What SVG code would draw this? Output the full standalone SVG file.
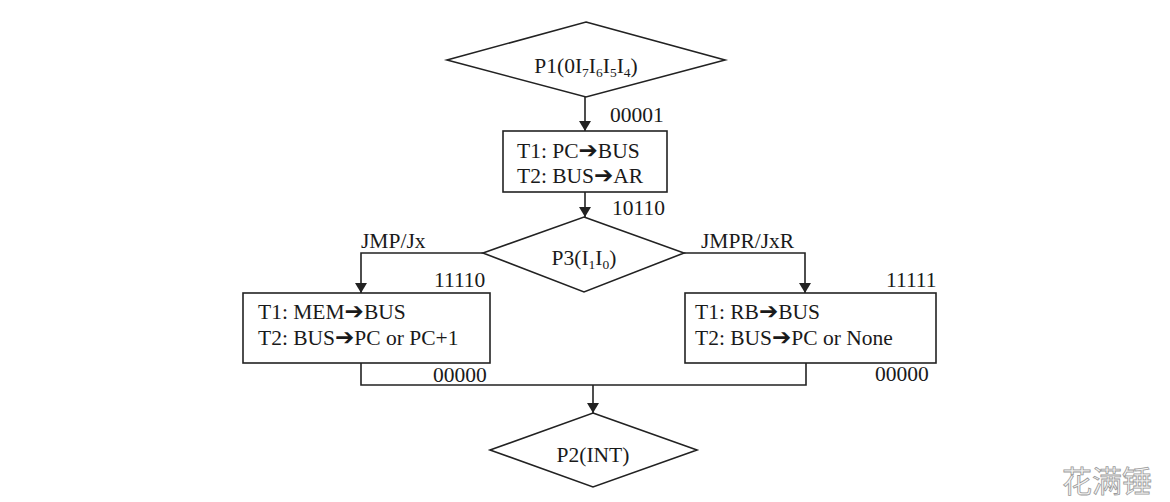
<svg xmlns="http://www.w3.org/2000/svg" width="1170" height="502" viewBox="0 0 1170 502">
<style>
  .shape { fill: #ffffff; stroke: #222222; stroke-width: 1.6; }
  .line { fill: none; stroke: #222222; stroke-width: 1.6; }
  .t { font-family: "Liberation Serif", "Times New Roman", serif; font-size: 21.5px; fill: #1a1a1a; }
  .c { text-anchor: middle; }
  .sub { font-size: 13.5px; }
  .ar { font-family: "DejaVu Sans", sans-serif; font-size: 23px; font-weight: bold; }
  .wm { font-family: "Noto Sans CJK SC", sans-serif; font-size: 30px; fill: #f4f4f4; stroke: #9a9a9a; stroke-width: 0.8; }
</style>
<defs>
  <marker id="arr" markerWidth="10" markerHeight="12" refX="10" refY="6" orient="auto" markerUnits="userSpaceOnUse">
    <path d="M0,0 L10,6 L0,12 Z" fill="#222222"/>
  </marker>
</defs>
<rect width="1170" height="502" fill="#ffffff"/>

<g id="connectors">
  <line class="line" x1="585" y1="97" x2="585" y2="131" marker-end="url(#arr)"/>
  <line class="line" x1="585" y1="192" x2="585" y2="217" marker-end="url(#arr)"/>
  <polyline class="line" points="483,253 361,253 361,293" marker-end="url(#arr)"/>
  <polyline class="line" points="684,253 805,253 805,293" marker-end="url(#arr)"/>
  <polyline class="line" points="361,363 361,385 806,385 806,363"/>
  <line class="line" x1="593" y1="385" x2="593" y2="413" marker-end="url(#arr)"/>
  <text class="t" x="610" y="122">00001</text>
  <text class="t" x="612" y="215">10110</text>
  <text class="t" x="361" y="248">JMP/Jx</text>
  <text class="t" x="701" y="248">JMPR/JxR</text>
  <text class="t" x="434" y="287">11110</text>
  <text class="t" x="886" y="287">11111</text>
  <text class="t" x="433" y="382">00000</text>
  <text class="t" x="875" y="381">00000</text>
</g>

<g id="P1">
  <polygon class="shape" points="586,22 725,60 586,97 447,60"/>
  <text class="t c" x="586" y="73">P1(0I<tspan class="sub" dy="4">7</tspan><tspan dy="-4">I</tspan><tspan class="sub" dy="4">6</tspan><tspan dy="-4">I</tspan><tspan class="sub" dy="4">5</tspan><tspan dy="-4">I</tspan><tspan class="sub" dy="4">4</tspan><tspan dy="-4">)</tspan></text>
</g>

<g id="B1">
  <rect class="shape" x="503" y="131" width="164" height="61"/>
  <text class="t" x="517" y="158">T1: PC<tspan class="ar">➔</tspan>BUS</text>
  <text class="t" x="517" y="183">T2: BUS<tspan class="ar">➔</tspan>AR</text>
</g>

<g id="P3">
  <polygon class="shape" points="584,217 684,253 584,292 483,253"/>
  <text class="t c" x="584" y="265">P3(I<tspan class="sub" dy="4">1</tspan><tspan dy="-4">I</tspan><tspan class="sub" dy="4">0</tspan><tspan dy="-4">)</tspan></text>
</g>

<g id="BL">
  <rect class="shape" x="243" y="293" width="247" height="70"/>
  <text class="t" x="258" y="319">T1: MEM<tspan class="ar">➔</tspan>BUS</text>
  <text class="t" x="258" y="345">T2: BUS<tspan class="ar">➔</tspan>PC or PC+1</text>
</g>

<g id="BR">
  <rect class="shape" x="685" y="293" width="251" height="70"/>
  <text class="t" x="695" y="319">T1: RB<tspan class="ar">➔</tspan>BUS</text>
  <text class="t" x="695" y="345">T2: BUS<tspan class="ar">➔</tspan>PC or None</text>
</g>

<g id="P2">
  <polygon class="shape" points="593,413 697,450 593,487 490,450"/>
  <text class="t c" x="593" y="462">P2(INT)</text>
</g>

<text class="wm" x="1062" y="492">花满锤</text>
</svg>
